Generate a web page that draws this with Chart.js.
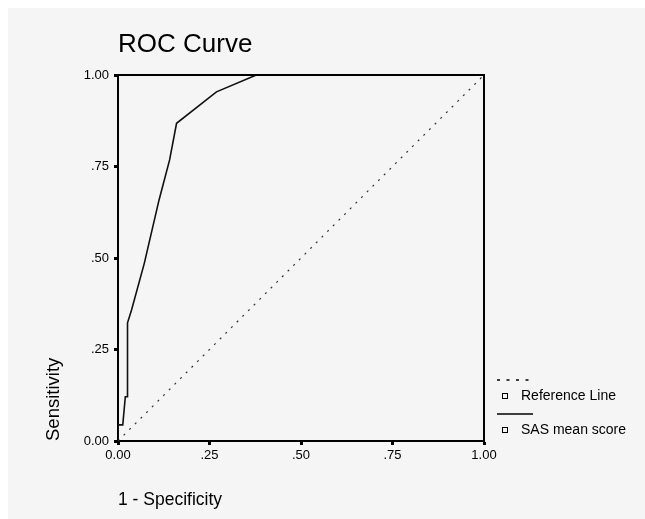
<!DOCTYPE html>
<html>
<head>
<meta charset="utf-8">
<script src="https://cdn.jsdelivr.net/npm/chart.js@4.4.1/dist/chart.umd.min.js"></script>
<style>
  html, body { margin: 0; padding: 0; background: #ffffff; }
  #wrap { position: absolute; left: 8px; top: 8px; width: 637px; height: 511px; background: #f5f5f5; }
</style>
</head>
<body>
<div id="wrap"><canvas id="roc"></canvas></div>
<script>
/* ---------- datos ---------- */
const chartTitle = 'ROC Curve';
const xAxisTitle = '1 - Specificity';
const yAxisTitle = 'Sensitivity';

// curva ROC (1 - especificidad, sensibilidad)
const curveLabel = 'SAS mean score';
const curveX = [0, 0, 0.013, 0.020, 0.026, 0.026, 0.037, 0.072, 0.112, 0.141, 0.160, 0.269, 0.378, 1.0];
const curveY = [0, 0.044, 0.044, 0.121, 0.121, 0.323, 0.358, 0.486, 0.658, 0.768, 0.868, 0.954, 1.0, 1.0];

// linea de referencia
const refLabel = 'Reference Line';
const refX = [0, 1];
const refY = [0, 1];

const xTickLabels = ['0.00', '.25', '.50', '.75', '1.00'];
const yTickLabels = ['0.00', '.25', '.50', '.75', '1.00'];

const FONT = "'Liberation Sans', Arial, sans-serif";

function toPoints(xs, ys) {
  return xs.map((x, i) => ({ x, y: ys[i] }));
}

/* ---------- plugin: titulo, marco y leyenda ---------- */
const extras = {
  id: 'extras',
  afterDraw(chart) {
    const { ctx, chartArea: a } = chart;
    ctx.save();

    // marco superior y derecho
    ctx.strokeStyle = '#000';
    ctx.lineWidth = 2;
    ctx.beginPath();
    ctx.moveTo(a.left, a.top);
    ctx.lineTo(a.right, a.top);
    ctx.lineTo(a.right, a.bottom);
    ctx.stroke();

    // titulo
    ctx.fillStyle = '#000';
    ctx.font = '26px ' + FONT;
    ctx.textAlign = 'left';
    ctx.textBaseline = 'alphabetic';
    ctx.fillText(chartTitle, a.left, 44);

    // leyenda
    const ds = chart.data.datasets;
    const lx = Math.round(a.right) + 13;
    const items = [
      { ds: ds[0], lineY: Math.round(a.bottom) - 61, dash: [3, 6.5] },
      { ds: ds[1], lineY: Math.round(a.bottom) - 27, dash: [] }
    ];
    ctx.font = '14px ' + FONT;
    ctx.textBaseline = 'middle';
    items.forEach(it => {
      ctx.strokeStyle = '#000';
      ctx.lineWidth = 1.5;
      ctx.setLineDash(it.dash);
      ctx.beginPath();
      ctx.moveTo(lx, it.lineY);
      ctx.lineTo(lx + 36, it.lineY);
      ctx.stroke();
      ctx.setLineDash([]);
      ctx.lineWidth = 1;
      ctx.strokeRect(lx + 5.5, it.lineY + 13.5, 5, 5);
      ctx.fillStyle = '#000';
      ctx.fillText(it.ds.label, lx + 24, it.lineY + 16);
    });

    ctx.restore();
  }
};

/* ---------- grafica ---------- */
new Chart(document.getElementById('roc'), {
  type: 'scatter',
  data: {
    datasets: [
      {
        label: refLabel,
        data: toPoints(refX, refY),
        showLine: true,
        borderColor: '#333',
        borderWidth: 1.2,
        borderDash: [2, 6],
        pointRadius: 0,
        fill: false
      },
      {
        label: curveLabel,
        data: toPoints(curveX, curveY),
        showLine: true,
        borderColor: '#111',
        borderWidth: 1.6,
        pointRadius: 0,
        tension: 0,
        fill: false
      }
    ]
  },
  options: {
    responsive: true,
    maintainAspectRatio: false,
    animation: false,
    layout: { padding: { top: 67, right: 161, bottom: 0, left: 0 } },
    plugins: {
      legend: { display: false },
      title: { display: false },
      tooltip: { enabled: false }
    },
    scales: {
      x: {
        type: 'linear',
        min: 0,
        max: 1,
        afterFit(scale) { scale.height = 78; },
        ticks: {
          stepSize: 0.25,
          color: '#000',
          font: { family: FONT, size: 13 },
          padding: 3,
          maxRotation: 0,
          callback: (v, i) => xTickLabels[i]
        },
        grid: { drawOnChartArea: false, tickLength: 4, tickWidth: 3, tickColor: '#000' },
        border: { color: '#000', width: 2 },
        title: {
          display: true,
          text: xAxisTitle,
          align: 'start',
          color: '#000',
          font: { family: FONT, size: 17.5 },
          padding: { top: 0, bottom: 8 }
        }
      },
      y: {
        type: 'linear',
        min: 0,
        max: 1,
        afterFit(scale) { scale.width = 110; },
        ticks: {
          stepSize: 0.25,
          color: '#000',
          font: { family: FONT, size: 13 },
          padding: 5,
          callback: (v, i) => yTickLabels[i]
        },
        grid: { drawOnChartArea: false, tickLength: 4, tickWidth: 3, tickColor: '#000' },
        border: { color: '#000', width: 2 },
        title: {
          display: true,
          text: yAxisTitle,
          align: 'start',
          color: '#000',
          font: { family: FONT, size: 18.5 },
          padding: { top: 35, bottom: 0 }
        }
      }
    }
  },
  plugins: [extras]
});
</script>
</body>
</html>
